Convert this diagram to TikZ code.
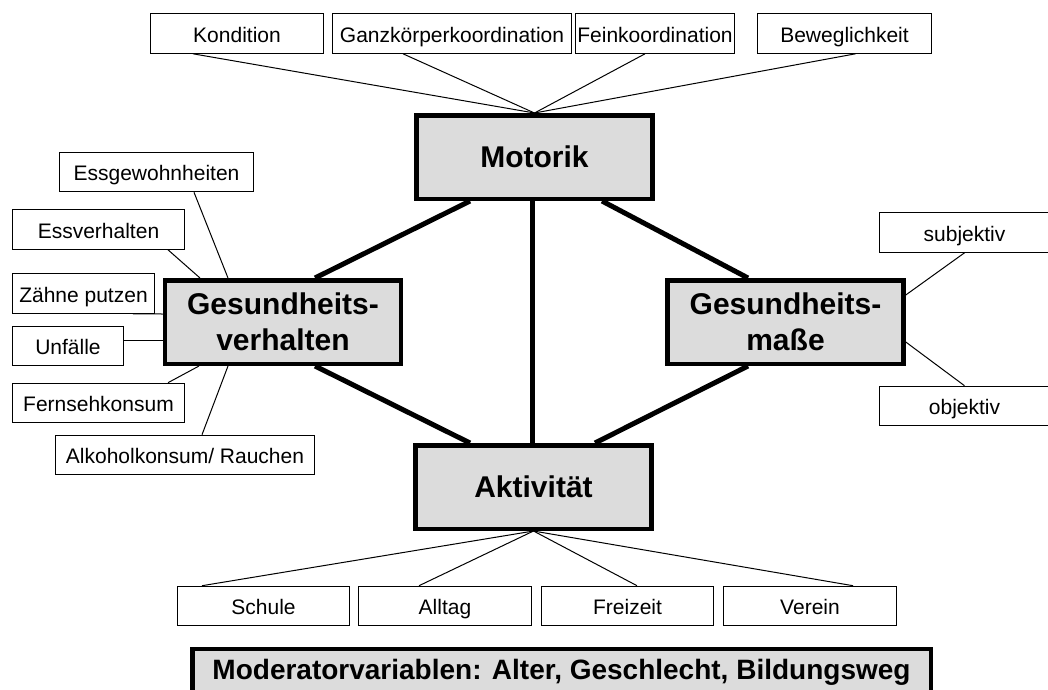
\documentclass[tikz,border=0pt]{standalone}
\usepackage{fontspec}
\setmainfont{Liberation Sans}
\usepackage{tikz}
\definecolor{boxgrau}{RGB}{220,220,220}

\begin{document}
\begin{tikzpicture}[x=1pt,y=-1pt]
\tikzset{haupt/.style = {shape=rectangle,draw,line width=4.5pt,fill=boxgrau,minimum width=236pt,minimum height=83.5pt,inner sep=0pt,align=center,font=\fontsize{30}{36}\selectfont\bfseries}}
\tikzset{neben/.style = {shape=rectangle,draw,line width=1.1pt,fill=white,minimum height=39.5pt,inner sep=0pt,text height=21pt,text depth=4pt,font=\fontsize{21}{25}\selectfont}}
\tikzset{edge/.style = {-,line width=1pt}}
\tikzset{dickedge/.style = {-,line width=5pt}}

\useasboundingbox (0,0) rectangle (1048,689);

\node[neben,minimum width=173pt] (kond)   at (237,33.5)  {Kondition};
\node[neben,minimum width=239pt] (ganz)   at (452,33.5)  {Ganzkörperkoordination};
\node[neben,minimum width=159pt] (fein)   at (655,33.5)  {Feinkoordination};
\node[neben,minimum width=174pt] (bewegl) at (844.5,33.5) {Beweglichkeit};

\node[haupt] (motorik) at (534.5,157) {Motorik};
\node[haupt] (gv)      at (283,322)   {Gesundheits-\\verhalten};
\node[haupt] (gm)      at (785.5,322) {Gesundheits-\\maße};
\node[haupt] (akt)     at (533.5,487) {Aktivität};

\node[neben,minimum width=194pt] (essg)   at (156.5,172)  {Essgewohnheiten};
\node[neben,minimum width=172pt] (essv)   at (98.5,229.5) {Essverhalten};
\node[neben,minimum width=142pt] (zaehne) at (83.5,293.5) {Zähne putzen};
\node[neben,minimum width=111pt] (unf)    at (68,346)     {Unfälle};
\node[neben,minimum width=172pt] (fern)   at (98.5,403)   {Fernsehkonsum};
\node[neben,minimum width=259pt] (alk)    at (185,455)    {Alkoholkonsum/ Rauchen};

\node[neben,minimum width=170pt] (subj) at (964.5,232.5) {subjektiv};
\node[neben,minimum width=170pt] (obj)  at (964.5,406)   {objektiv};

\node[neben,minimum width=172pt] (schule) at (263.5,606) {Schule};
\node[neben,minimum width=173pt] (alltag) at (445,606)   {Alltag};
\node[neben,minimum width=172pt] (frei)   at (627.5,606) {Freizeit};
\node[neben,minimum width=173pt] (verein) at (810,606)   {Verein};

\node[haupt,minimum width=738.5pt,minimum height=46pt,text height=20pt,text depth=6pt,font=\fontsize{28}{32}\selectfont\bfseries] (mod) at (561.5,672) {Moderatorvariablen: Alter, Geschlecht, Bildungsweg};

% Motorik
\draw[edge] ([xshift=-44pt]kond.south) to (motorik.north);
\draw[edge] ([xshift=-49pt]ganz.south) to (motorik.north);
\draw[edge] ([xshift=-10pt]fein.south) to (motorik.north);
\draw[edge] ([xshift=11pt]bewegl.south) to (motorik.north);

% Gesundheitsverhalten
\draw[edge] ([xshift=37.5pt]essg.south) to ([xshift=-55pt]gv.north);
\draw[edge] ([xshift=69.5pt]essv.south) to ([xshift=-83pt]gv.north);
\draw[edge] ([xshift=49.5pt]zaehne.south) to ([yshift=8pt]gv.west);
\draw[edge] ([yshift=6pt]unf.east) to ([yshift=-18pt]gv.west);
\draw[edge] ([xshift=69.5pt]fern.north) to ([xshift=-84pt]gv.south);
\draw[edge] ([xshift=17pt]alk.north) to ([xshift=-55pt]gv.south);

% Gesundheitsmasse
\draw[edge] (subj.south) to ([yshift=27pt]gm.east);
\draw[edge] (obj.north) to ([yshift=-20pt]gm.east);

% Aktivitaet
\draw[edge] ([xshift=-61.5pt]schule.north) to (akt.south);
\draw[edge] ([xshift=-26pt]alltag.north) to (akt.south);
\draw[edge] ([xshift=9.5pt]frei.north) to (akt.south);
\draw[edge] ([xshift=43pt]verein.north) to (akt.south);

% Hauptverbindungen
\draw[dickedge] ([xshift=-64.5pt]motorik.south) to ([xshift=32pt]gv.north);
\draw[dickedge] ([xshift=-2pt]motorik.south) to ([xshift=-1pt]akt.north);
\draw[dickedge] ([xshift=67.5pt]motorik.south) to ([xshift=-37.5pt]gm.north);
\draw[dickedge] ([xshift=32pt]gv.south) to ([xshift=-63.5pt]akt.north);
\draw[dickedge] ([xshift=-37.5pt]gm.south) to ([xshift=61.5pt]akt.north);

\end{tikzpicture}
\end{document}
